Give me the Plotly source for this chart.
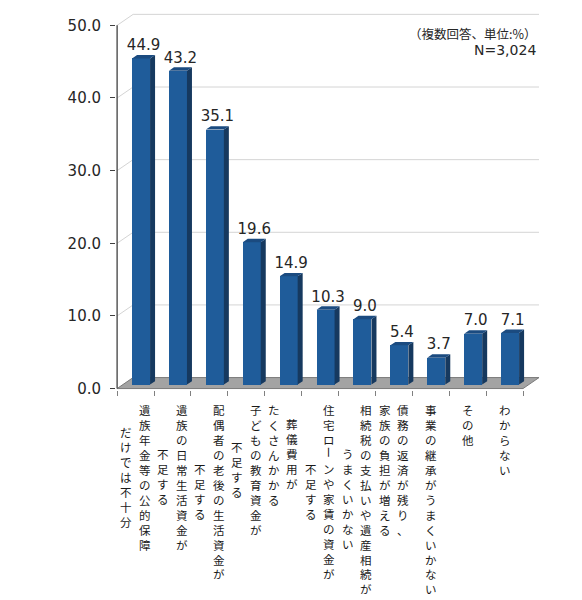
import plotly.graph_objects as go

# survey answers, one list of vertical text columns per category (right to left)
labels = [
    ["遺族年金等の公的保障", "だけでは不十分"],
    ["遺族の日常生活資金が", "不足する"],
    ["配偶者の老後の生活資金が", "不足する"],
    ["子どもの教育資金が", "不足する"],
    ["葬儀費用が", "たくさんかかる"],
    ["住宅ローンや家賃の資金が", "不足する"],
    ["相続税の支払いや遺産相続が", "うまくいかない"],
    ["債務の返済が残り、", "家族の負担が増える"],
    ["事業の継承がうまくいかない"],
    ["その他"],
    ["わからない"],
]
values = [44.9, 43.2, 35.1, 19.6, 14.9, 10.3, 9.0, 5.4, 3.7, 7.0, 7.1]
y_ticks = [0, 10, 20, 30, 40, 50]
note = "（複数回答、単位:%）"
sample = "N=3,024"

PAGE = 8  # body margin of the page the figure sits in


def main():
    n = len(values)
    # pixel scale of the axes
    px_x, px_y = 36.9, 7.28
    x_range = [-0.53, n - 0.5 + 0.46]
    y_range = [-0.2, 51.7]
    left = 117 - PAGE - 0.03 * px_x
    plot_w = (x_range[1] - x_range[0]) * px_x
    bottom_px = 389 - PAGE + 0.2 * px_y
    plot_h = (y_range[1] - y_range[0]) * px_y
    top = bottom_px - plot_h

    # oblique 3d offsets (data units)
    back_dx, back_dy = 16 / px_x, 11 / px_y
    front_dx, front_dy = 5.5 / px_x, 4 / px_y
    bar_w = 18 / px_x
    side_dx, side_dy = 5 / px_x, 3.4 / px_y

    front = "#1f5c9a"
    side = "#16395f"
    topc = "#1b4b80"

    fig = go.Figure()

    xs = [i + front_dx for i in range(n)]
    fig.add_trace(go.Bar(
        x=xs, y=values, base=front_dy, width=bar_w,
        marker=dict(color=front, line=dict(width=0)),
        hoverinfo="skip", showlegend=False,
    ))

    sx, sy, tx, ty = [], [], [], []
    for x, v in zip(xs, values):
        r = x + bar_w / 2
        l = x - bar_w / 2
        t = v + front_dy
        sx += [r, r, r + side_dx, r + side_dx, r, None]
        sy += [front_dy, t, t + side_dy, front_dy + side_dy, front_dy, None]
        tx += [l, r, r + side_dx, l + side_dx, l, None]
        ty += [t, t, t + side_dy, t + side_dy, t, None]
    fig.add_trace(go.Scatter(x=sx, y=sy, mode="lines", fill="toself",
                             fillcolor=side, line=dict(width=0, color=side),
                             hoverinfo="skip", showlegend=False))
    fig.add_trace(go.Scatter(x=tx, y=ty, mode="lines", fill="toself",
                             fillcolor=topc, line=dict(width=0, color=topc),
                             hoverinfo="skip", showlegend=False))

    fig.add_trace(go.Scatter(
        x=[x + side_dx / 2 for x in xs],
        y=[v + front_dy + side_dy + 0.15 for v in values],
        mode="text", text=[f"{v:.1f}" for v in values],
        textposition="top center", cliponaxis=False,
        textfont=dict(family="DejaVu Sans", size=15, color="#262626"),
        hoverinfo="skip", showlegend=False,
    ))

    shapes = []
    # floor
    x0, x1 = -0.5, n - 0.5
    shapes.append(dict(
        type="path", xref="x", yref="y", layer="below",
        path=f"M {x0} 0 L {x0 + back_dx} {back_dy} L {x1 + back_dx} {back_dy} L {x1} 0 Z",
        fillcolor="#a3a3a3", line=dict(color="#7a7a7a", width=1),
    ))
    # back wall grid
    for v in y_ticks[1:]:
        shapes.append(dict(
            type="path", xref="x", yref="y", layer="below",
            path=f"M {x0} {v} L {x0 + back_dx} {v + back_dy} L {x1 + back_dx} {v + back_dy}",
            line=dict(color="#d4d4d4", width=1),
        ))
    # value axis line
    shapes.append(dict(type="line", xref="x", yref="y", x0=x0, x1=x0, y0=0, y1=y_ticks[-1],
                       line=dict(color="#404040", width=1.3)))

    # vertical (tategaki) category labels: one stacked column per text line,
    # the long vowel mark turned upright as in vertical writing
    annotations = []
    fs = 11.5
    pitch = 1.3 * fs
    col_gap, first_top = 18.5, 401 - PAGE
    lab_font = dict(family="Noto Sans CJK JP", size=fs, color="#1a1a1a")
    for i, cols in enumerate(labels):
        m = max(len(c) for c in cols)
        k = len(cols)
        for j, col in enumerate(cols):
            xsh = ((k - 1) / 2 - j) * col_gap
            start = first_top + (m - len(col)) / 2 * pitch
            pieces = col.split("ー")
            q = 0
            for p, piece in enumerate(pieces):
                if piece:
                    annotations.append(dict(
                        x=i, y=0, xref="x", yref="paper", text="<br>".join(piece),
                        showarrow=False, xanchor="center", yanchor="top",
                        xshift=xsh, yshift=-(start + q * pitch - bottom_px),
                        borderpad=0, font=lab_font,
                    ))
                q += len(piece)
                if p < len(pieces) - 1:
                    annotations.append(dict(
                        x=i, y=0, xref="x", yref="paper", text="ー", textangle=90,
                        showarrow=False, xanchor="center", yanchor="middle",
                        xshift=xsh, yshift=-(start + (q + 0.5) * pitch - bottom_px),
                        borderpad=0, font=lab_font,
                    ))
                    q += 1

    # survey note, top right
    annotations.append(dict(
        x=1, y=1, xref="paper", yref="paper", text=note, showarrow=False,
        xanchor="right", yanchor="middle", xshift=-2, yshift=-(33 - PAGE - top),
        borderpad=0, font=dict(family="Noto Sans CJK JP", size=12.5, color="#262626"),
    ))
    annotations.append(dict(
        x=1, y=1, xref="paper", yref="paper", text=sample, showarrow=False,
        xanchor="right", yanchor="middle", xshift=-3, yshift=-(50 - PAGE - top),
        borderpad=0, font=dict(family="DejaVu Sans", size=14, color="#262626"),
    ))

    fig.update_layout(
        width=582, height=600,
        margin=dict(l=left, r=582 - left - plot_w, t=top, b=600 - bottom_px, pad=0),
        paper_bgcolor="white", plot_bgcolor="white",
        shapes=shapes, annotations=annotations,
        xaxis=dict(range=x_range, tickvals=[i - 0.5 for i in range(n + 1)],
                   showticklabels=False, ticks="outside", ticklen=5,
                   tickcolor="#808080", showgrid=False, zeroline=False,
                   showline=False, automargin=False, fixedrange=True),
        yaxis=dict(range=y_range, tickvals=y_ticks, tickformat=".1f",
                   ticks="outside", ticklen=5, tickcolor="#404040",
                   ticklabelstandoff=6,
                   tickfont=dict(family="DejaVu Sans", size=15, color="#262626"),
                   showgrid=False, zeroline=False, showline=False,
                   automargin=False, fixedrange=True),
        bargap=0,
    )
    fig.write_html("out.html")


if __name__ == "__main__":
    main()
